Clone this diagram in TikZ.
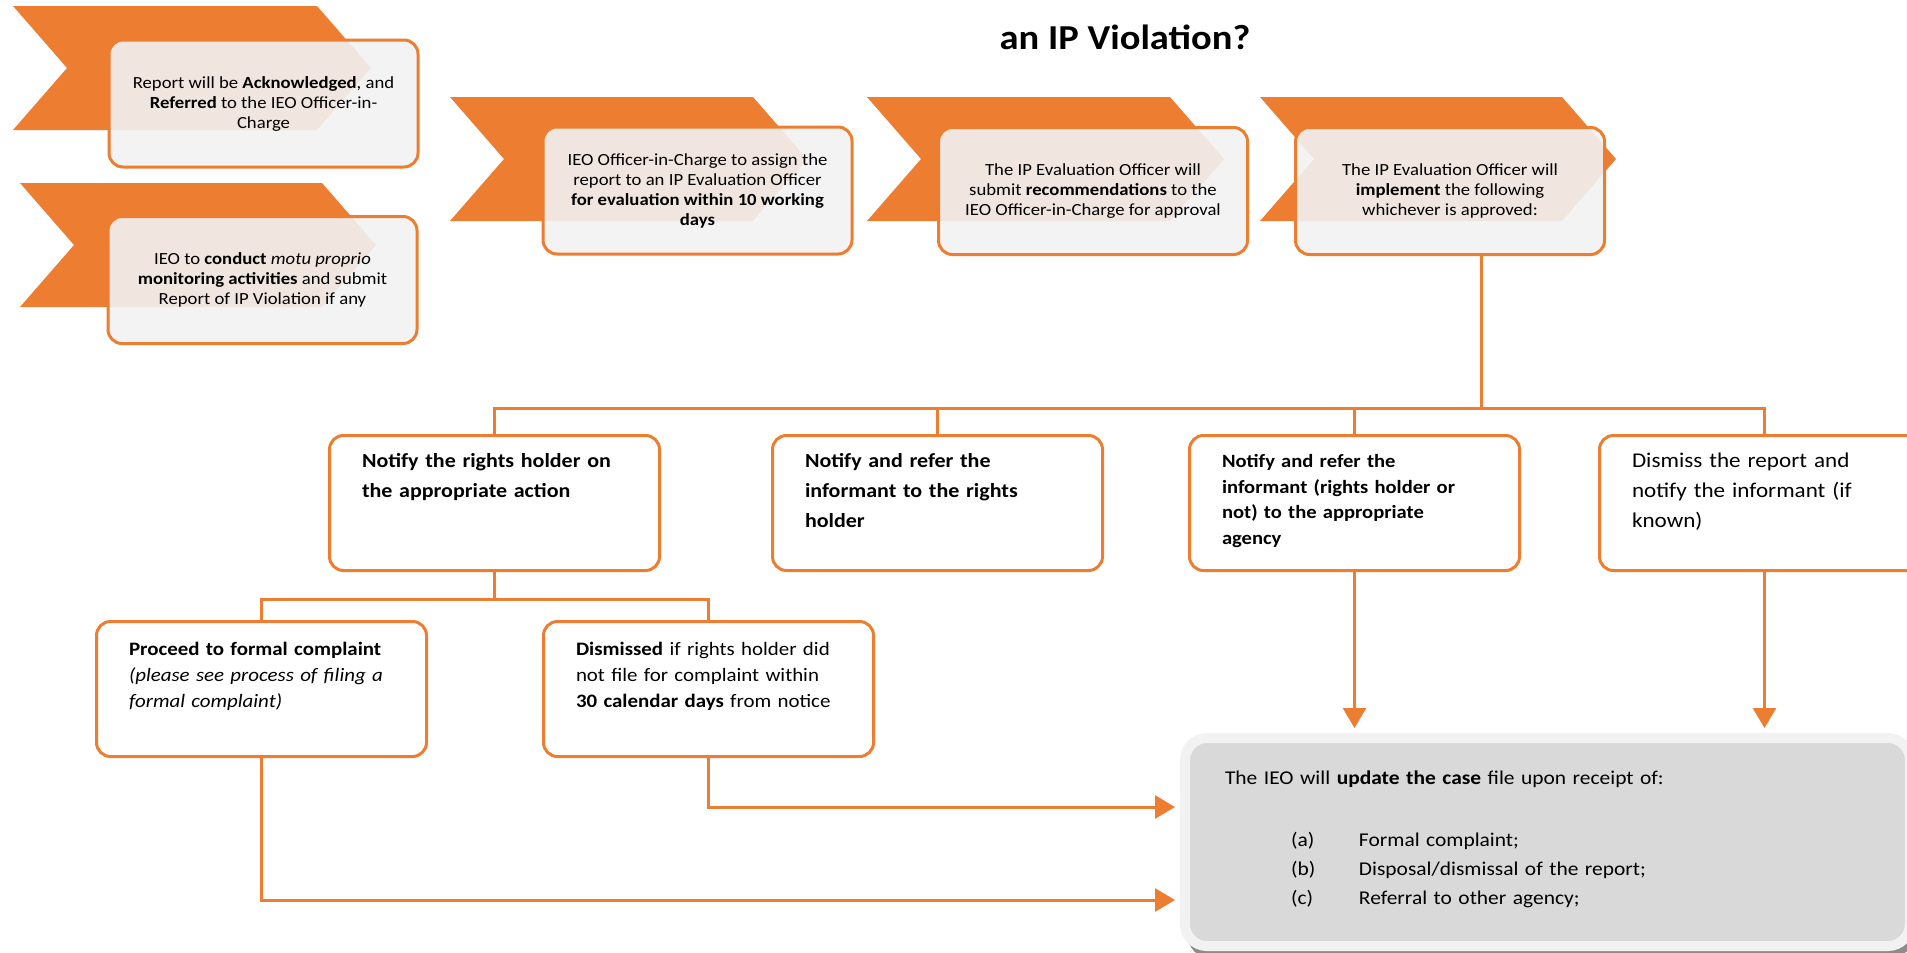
\documentclass[tikz,border=0pt]{standalone}
\usepackage{fontspec}
\setmainfont{Carlito}[FakeStretch=1.1]
\usetikzlibrary{arrows.meta,shadows}
\definecolor{orng}{HTML}{ED7D31}

\begin{document}
\begin{tikzpicture}[x=1pt, y=-1pt,
  chev/.style={fill=orng},
  topbox/.style={draw=orng, line width=3pt, rounded corners=14pt, fill=gray!10, fill opacity=0.9, text opacity=1,
    minimum width=309pt, minimum height=127pt, align=center, inner sep=0pt, font=\fontsize{17}{20}\selectfont},
  optbox/.style={draw=orng, line width=3pt, rounded corners=14pt, fill=white, anchor=north west,
    text width=265pt, inner xsep=32.5pt, inner ysep=17pt, align=left, text height=15pt, text depth=86pt},
  subbox/.style={optbox, inner ysep=20pt, text height=14pt, text depth=81pt, font=\fontsize{19}{26}\selectfont},
  link/.style={draw=orng, line width=3pt},
  arr/.style={link, -{Triangle[width=23pt,length=20pt]}, shorten >=5pt}]

\useasboundingbox (0,0) rectangle (1907,953);
\clip (0,0) rectangle (1907,953);

\node[font=\fontsize{35}{40}\selectfont\bfseries] (title) at (1125,37) {an IP Violation?};

% chevrons behind the first row
\fill[chev] (13,6) -- ++(304,0) -- ++(54,62) -- ++(-54,62) -- ++(-304,0) -- ++(54,-62) -- cycle;
\fill[chev] (20,183) -- ++(302,0) -- ++(54,62) -- ++(-54,62) -- ++(-302,0) -- ++(54,-62) -- cycle;
\fill[chev] (450,97) -- ++(303,0) -- ++(54,62) -- ++(-54,62) -- ++(-303,0) -- ++(54,-62) -- cycle;
\fill[chev] (867,97) -- ++(303,0) -- ++(54,62) -- ++(-54,62) -- ++(-303,0) -- ++(54,-62) -- cycle;
\fill[chev] (1260,97) -- ++(302,0) -- ++(54,62) -- ++(-54,62) -- ++(-302,0) -- ++(54,-62) -- cycle;

\node[topbox] (ack) at (263.5,103.5) {Report will be \textbf{Acknowledged}, and\\ \textbf{Referred} to the IEO Officer-in-\\ Charge};
\node[topbox] (motu) at (262.5,280) {IEO to \textbf{conduct} \textit{motu proprio}\\ \textbf{monitoring activities} and submit\\ Report of IP Violation if any};
\node[topbox] (assign) at (697.5,190.5) {IEO Officer-in-Charge to assign the\\ report to an IP Evaluation Officer\\ \textbf{for evaluation within 10 working}\\ \textbf{days}};
\node[topbox] (recom) at (1093,191) {The IP Evaluation Officer will\\ submit \textbf{recommendations} to the\\ IEO Officer-in-Charge for approval};
\node[topbox] (impl) at (1450,191) {The IP Evaluation Officer will\\ \textbf{implement} the following\\ whichever is approved:};

% options
\node[optbox, font=\fontsize{20}{30}\selectfont\bfseries] (notif) at (328,434) {Notify the rights holder on\\ the appropriate action};
\node[optbox, font=\fontsize{20}{30}\selectfont\bfseries] (referh) at (771,434) {Notify and refer the\\ informant to the rights\\ holder};
\node[optbox, font=\fontsize{18.7}{25.5}\selectfont\bfseries] (refag) at (1188,434) {Notify and refer the\\ informant (rights holder or\\ not) to the appropriate\\ agency};
\node[optbox, font=\fontsize{21}{30}\selectfont] (dismiss) at (1598,434) {Dismiss the report and\\ notify the informant (if\\ known)};

\node[subbox] (formal) at (95,620) {\textbf{Proceed to formal complaint}\\ \textit{(please see process of filing a}\\ \textit{formal complaint)}};
\node[subbox] (lapse) at (542,620) {\textbf{Dismissed} if rights holder did\\ not file for complaint within\\ \textbf{30 calendar days} from notice};

\node[draw=gray!10, line width=10pt, fill=gray!30, rounded corners=22pt, anchor=north west,
  text width=645pt, inner xsep=40pt, inner ysep=31pt, text height=15pt, text depth=131pt, align=left,
  font=\fontsize{19.5}{29}\selectfont,
  drop shadow={shadow xshift=3pt, shadow yshift=-12pt, fill=black!45, opacity=1}] (upd) at (1180,733)
  {The IEO will \textbf{update the case} file upon receipt of:\\[33pt]
   \hspace*{66pt}\makebox[68pt][l]{(a)}Formal complaint;\\
   \hspace*{66pt}\makebox[68pt][l]{(b)}Disposal/dismissal of the report;\\
   \hspace*{66pt}\makebox[68pt][l]{(c)}Referral to other agency;};

% tree
\draw[link] ([xshift=31pt]impl.south) -- ++(0,152) coordinate (hub);
\draw[link] (hub) -| (notif.north);
\draw[link] (hub) -| (referh.north);
\draw[link] (hub) -| (refag.north);
\draw[link] (hub) -| (dismiss.north);
\draw[link] (notif.south) -- ++(0,27) coordinate (split);
\draw[link] (split) -| (formal.north);
\draw[link] (split) -| (lapse.north);

\draw[arr] (formal.south) |- ([yshift=-58pt]upd.west);
\draw[arr] (lapse.south) |- ([yshift=35pt]upd.west);
\draw[arr] (refag.south) -- (refag.south |- upd.north);
\draw[arr] (dismiss.south) -- (dismiss.south |- upd.north);
\end{tikzpicture}
\end{document}
